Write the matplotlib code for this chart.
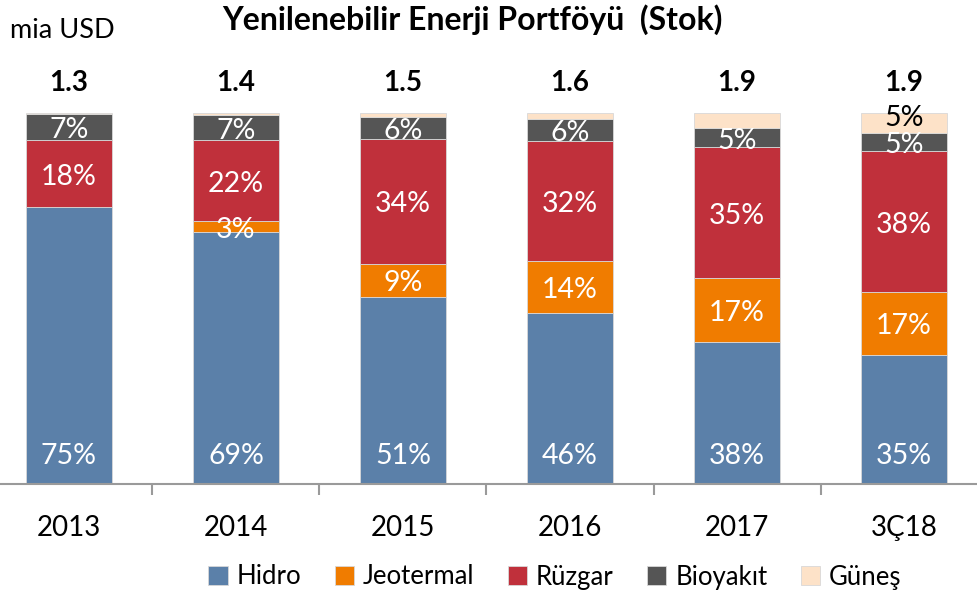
import matplotlib
matplotlib.use("Agg")
import matplotlib.pyplot as plt
import numpy as np

plt.rcParams['font.family'] = ['Lato', 'DejaVu Sans']

categories = ["2013", "2014", "2015", "2016", "2017", "3Ç18"]
totals = ["1.3", "1.4", "1.5", "1.6", "1.9", "1.9"]
series_names = ["Hidro", "Jeotermal", "Rüzgar", "Bioyakıt", "Güneş"]
hidro = [75, 69, 51, 46, 38, 35]
jeotermal = [0, 3, 9, 14, 17, 17]
ruzgar = [18, 22, 34, 32, 35, 38]
bioyakit = [7, 7, 6, 6, 5, 5]
gunes = [0.3, 0.5, 1.0, 1.6, 4, 5.3]
gunes_labels = ["", "", "", "", "", "5%"]

colors = ["#5B80A9", "#F07C00", "#C0303B", "#555555", "#FDE2C8"]
series = [hidro, jeotermal, ruzgar, bioyakit, gunes]

# 100% stacked: normalise each bar
raw = np.array(series, dtype=float)
share = raw / raw.sum(axis=0) * 100

fig = plt.figure(figsize=(9.78, 5.94), dpi=100)
W, H = 978, 594
ax_bottom_px, ax_top_px = 484, 113
ax = fig.add_axes([0, 1 - ax_bottom_px / H, 1, (ax_bottom_px - ax_top_px) / H])

x = np.arange(len(categories))
bottom = np.zeros(len(categories))
FS = 20.5
for k, (name, vals, col) in enumerate(zip(series_names, series, colors)):
    v = share[k]
    ax.bar(x, v, width=0.52, bottom=bottom, color=col, label=name,
           edgecolor="#d8d8d8", linewidth=0.6)
    for i in range(len(x)):
        if name == "Hidro":
            ax.text(x[i], 7.5, f"{vals[i]:g}%", ha="center", va="center",
                    color="white", fontsize=FS)
        elif name == "Güneş":
            if gunes_labels[i]:
                ax.text(x[i], bottom[i] + v[i] / 2 + 1.2, gunes_labels[i],
                        ha="center", va="center", color="black", fontsize=FS)
        elif vals[i] >= 2.5:
            ax.text(x[i], bottom[i] + v[i] / 2 - 0.9, f"{vals[i]:g}%", ha="center",
                    va="center", color="white", fontsize=FS)
    bottom += v

for i, t in enumerate(totals):
    ax.text(x[i], 108.0, t, ha="center", va="center", fontsize=20,
            fontweight="bold", clip_on=False)

ax.set_xlim(-0.413, 5.443)
ax.set_ylim(0, 100)
ax.set_yticks([])
for s in ["top", "right", "left"]:
    ax.spines[s].set_visible(False)
ax.spines["bottom"].set_color("#9a9a9a")
ax.spines["bottom"].set_linewidth(1.5)
ax.set_xticks(x)
ax.set_xticklabels(categories, fontsize=20)
ax.tick_params(axis="x", which="major", length=0, pad=22)
ax.set_xticks(x[:-1] + 0.5, minor=True)
ax.tick_params(axis="x", which="minor", length=8, width=1.5, color="#9a9a9a")

fig.text(222 / W, 1 - 20 / H, "Yenilenebilir Enerji Portföyü  (Stok)",
         fontsize=23, fontweight="bold", ha="left", va="center")
fig.text(10 / W, 1 - 30 / H, "mia USD", fontsize=19.5, ha="left", va="center")

handles, labels = ax.get_legend_handles_labels()
fig.legend(handles, labels, loc="center", bbox_to_anchor=(555 / W, 1 - 577 / H),
           ncol=5, frameon=False, fontsize=18.5, handlelength=0.75, handleheight=0.75,
           handletextpad=0.35, columnspacing=1.3)

fig.savefig("out.png", dpi=100)
